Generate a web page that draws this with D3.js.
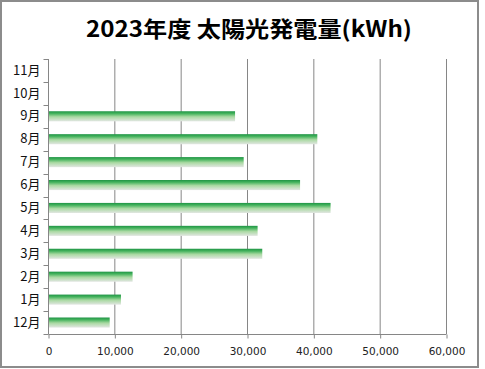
<!DOCTYPE html>
<html>
<head>
<meta charset="utf-8">
<script src="https://cdn.jsdelivr.net/npm/d3@7"></script>
<style>
  body { margin: 0; background: #fff; }
  svg { display: block; }
</style>
</head>
<body>
<div id="chart"></div>
<script>
// chart data
const title = '2023年度 太陽光発電量(kWh)';
const months = ['12月', '1月', '2月', '3月', '4月', '5月', '6月', '7月', '8月', '9月', '10月', '11月'];
const values = [9300, 11000, 12750, 32300, 31600, 42600, 38000, 29500, 40600, 28200, null, null];
const xTicks = [0, 10000, 20000, 30000, 40000, 50000, 60000];

const width = 485;
const height = 369;
const margin = { top: 59, right: 39, bottom: 35, left: 48 };

const svg = d3.select('#chart')
  .append('svg')
    .attr('width', width)
    .attr('height', height);

// outer frame
svg.append('rect')
  .attr('x', 1).attr('y', 1)
  .attr('width', 477).attr('height', 366)
  .attr('fill', '#fff')
  .attr('stroke', '#8c8c8c')
  .attr('stroke-width', 2);

// bar gradient: dark green on top fading to pale grey
const grad = svg.append('defs').append('linearGradient')
  .attr('id', 'barGrad')
  .attr('x1', 0).attr('y1', 0).attr('x2', 0).attr('y2', 1);
grad.append('stop').attr('offset', '0%').attr('stop-color', '#1f9445');
grad.append('stop').attr('offset', '22%').attr('stop-color', '#43b25c');
grad.append('stop').attr('offset', '55%').attr('stop-color', '#a9d9a2');
grad.append('stop').attr('offset', '100%').attr('stop-color', '#e2e6e2');

svg.append('text')
  .attr('x', 249)
  .attr('y', 37)
  .attr('text-anchor', 'middle')
  .attr('textLength', 326)
  .attr('lengthAdjust', 'spacingAndGlyphs')
  .style('font-family', '"Noto Sans CJK JP", sans-serif')
  .style('font-weight', 'bold')
  .style('font-size', '22px')
  .text(title);

const plotWidth = width - margin.left - margin.right;
const plotHeight = height - margin.top - margin.bottom;

const plot = svg.append('g')
  .attr('transform', `translate(${margin.left},${margin.top})`);

const xScale = d3.scaleLinear()
  .domain([0, 60000])
  .range([0, plotWidth]);

const yScale = d3.scaleBand()
  .domain(months.slice().reverse())
  .range([0, plotHeight]);

// vertical gridlines
plot.append('g')
  .selectAll('line')
  .data(xTicks.slice(1))
  .join('line')
    .attr('x1', d => xScale(d) + 0.5)
    .attr('x2', d => xScale(d) + 0.5)
    .attr('y1', 0)
    .attr('y2', plotHeight)
    .attr('stroke', '#868686')
    .attr('stroke-width', 1);

// bars
const barH = yScale.bandwidth() * 0.44;
plot.append('g')
  .selectAll('rect')
  .data(months.map((m, i) => ({ month: m, value: values[i] })).filter(d => d.value != null))
  .join('rect')
    .attr('x', 1)
    .attr('y', d => yScale(d.month) + yScale.bandwidth() / 2 - barH / 2)
    .attr('width', d => xScale(d.value) - 1)
    .attr('height', barH)
    .attr('fill', 'url(#barGrad)');

// x axis
const xAxis = d3.axisBottom(xScale)
  .tickValues(xTicks)
  .tickSize(4)
  .tickPadding(9)
  .tickFormat(d3.format(','));
const xAxisGroup = plot.append('g')
  .attr('transform', `translate(0.5,${plotHeight + 0.5})`)
  .call(xAxis);
xAxisGroup.select('.domain').attr('stroke', '#868686').attr('d', `M0,0H${plotWidth}`);
xAxisGroup.selectAll('.tick line').attr('stroke', '#868686');
xAxisGroup.selectAll('.tick text')
  .attr('fill', '#222')
  .style('font-family', '"DejaVu Sans", Verdana, sans-serif')
  .style('font-size', '10.5px');

// y axis: labels at band centres, ticks at band boundaries
const yAxis = d3.axisLeft(yScale)
  .tickSize(0)
  .tickPadding(8);
const yAxisGroup = plot.append('g')
  .attr('transform', 'translate(0.5,0)')
  .call(yAxis);
yAxisGroup.select('.domain').attr('stroke', '#868686').attr('d', `M0,0V${plotHeight}`);
yAxisGroup.selectAll('.tick text')
  .attr('fill', '#111')
  .style('font-family', '"Noto Sans CJK JP", sans-serif')
  .style('font-size', '13px');

const bounds = months.map(m => yScale(m)).concat([plotHeight]);
yAxisGroup.append('g')
  .selectAll('line')
  .data(bounds)
  .join('line')
    .attr('x1', -5)
    .attr('x2', 0)
    .attr('y1', d => Math.round(d) + 0.5)
    .attr('y2', d => Math.round(d) + 0.5)
    .attr('stroke', '#868686');
</script>
</body>
</html>
